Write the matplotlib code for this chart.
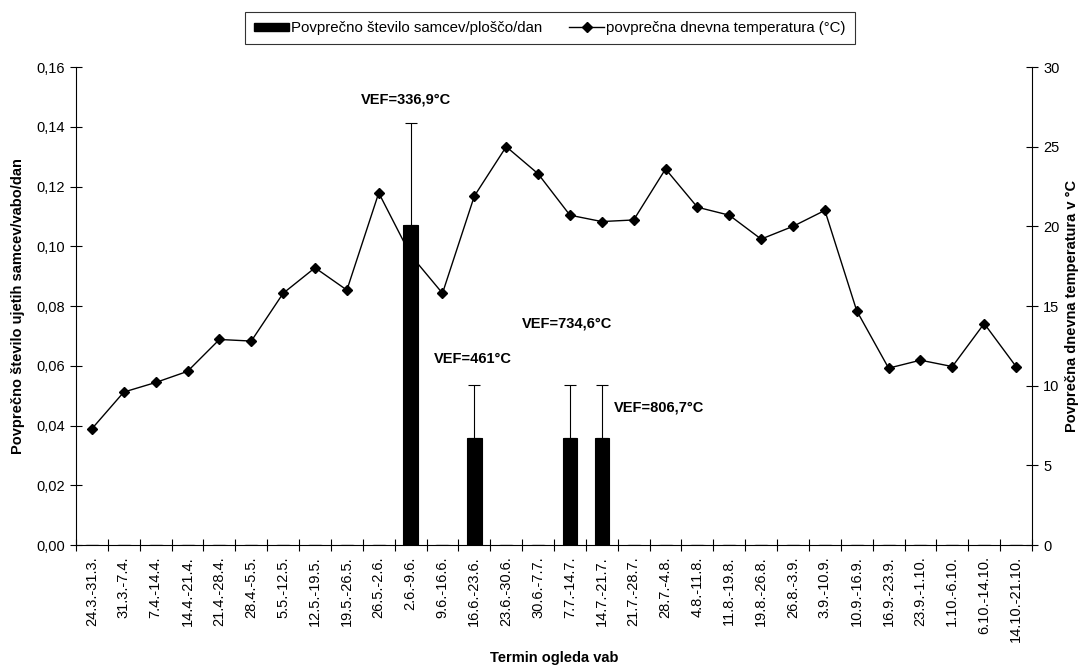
import numpy as np
import matplotlib
matplotlib.use("Agg")
import matplotlib.pyplot as plt
from matplotlib.patches import Patch
from matplotlib.lines import Line2D

plt.rcParams['font.family'] = ['Liberation Sans', 'DejaVu Sans']

termini = ['24.3.-31.3.', '31.3.-7.4.', '7.4.-14.4.', '14.4.-21.4.', '21.4.-28.4.',
           '28.4.-5.5.', '5.5.-12.5.', '12.5.-19.5.', '19.5.-26.5.', '26.5.-2.6.',
           '2.6.-9.6.', '9.6.-16.6.', '16.6.-23.6.', '23.6.-30.6.', '30.6.-7.7.',
           '7.7.-14.7.', '14.7.-21.7.', '21.7.-28.7.', '28.7.-4.8.', '4.8.-11.8.',
           '11.8.-19.8.', '19.8.-26.8.', '26.8.-3.9.', '3.9.-10.9.', '10.9.-16.9.',
           '16.9.-23.9.', '23.9.-1.10.', '1.10.-6.10.', '6.10.-14.10.', '14.10.-21.10.']

# povprecno stevilo samcev / plosco / dan
samci = [0, 0, 0, 0, 0, 0, 0, 0, 0, 0,
         0.107, 0, 0.0357, 0, 0, 0.0357, 0.0357, 0, 0, 0,
         0, 0, 0, 0, 0, 0, 0, 0, 0, 0]
samci_err = [0, 0, 0, 0, 0, 0, 0, 0, 0, 0,
             0.0344, 0, 0.0179, 0, 0, 0.0179, 0.0179, 0, 0, 0,
             0, 0, 0, 0, 0, 0, 0, 0, 0, 0]

# povprecna dnevna temperatura (°C)
temperatura = [7.3, 9.6, 10.2, 10.9, 12.9, 12.8, 15.8, 17.4, 16.0, 22.1,
               18.2, 15.8, 21.9, 25.0, 23.3, 20.7, 20.3, 20.4, 23.6, 21.2,
               20.7, 19.2, 20.0, 21.0, 14.7, 11.1, 11.6, 11.2, 13.9, 11.2]

# VEF napisi
vef_labels = ['VEF=336,9°C', 'VEF=461°C', 'VEF=734,6°C', 'VEF=806,7°C']
vef_x = [9.86, 11.97, 14.9, 17.79]
vef_y = [0.149, 0.0623, 0.074, 0.0461]

x = np.arange(len(termini))

fig = plt.figure(figsize=(10.83, 6.68), dpi=100)
ax = fig.add_axes([0.0702, 0.1841, 0.8827, 0.7156])
ax2 = ax.twinx()

# line on secondary axis, bars drawn on top of it
ax2.plot(x, temperatura, color='black', lw=1.0, marker='D', ms=5.5,
         markerfacecolor='black', markeredgecolor='black', zorder=2)

ax.set_zorder(ax2.get_zorder() + 1)
ax.patch.set_visible(False)

err = np.array(samci_err)
ax.bar(x, samci, width=0.45, color='black', edgecolor='black', linewidth=0.8,
       yerr=[np.zeros_like(err), err], capsize=4.2,
       error_kw=dict(ecolor='black', elinewidth=0.8, capthick=0.8))

for t, tx, ty in zip(vef_labels, vef_x, vef_y):
    ax.text(tx, ty, t, ha='center', va='center', fontsize=10.5, fontweight='bold')

ax.set_xlim(-0.5, len(termini) - 0.5)
ax.set_ylim(0, 0.16)
ax2.set_ylim(0, 30)

yt = np.arange(0, 0.161, 0.02)
ax.set_yticks(yt)
ax.set_yticklabels([('%.2f' % v).replace('.', ',') for v in yt])
ax2.set_yticks(np.arange(0, 31, 5))

ax.set_xticks(x)
ax.set_xticklabels(termini, rotation=90)
ax.set_xticks(np.arange(-0.5, len(termini)), minor=True)
ax.tick_params(axis='x', which='major', length=0, pad=8, labelsize=10.5)
ax.tick_params(axis='x', which='minor', length=8, direction='inout', width=0.8)
ax.tick_params(axis='y', length=8, direction='inout', width=0.8, labelsize=10.5, pad=4)
ax2.tick_params(axis='y', length=8, direction='inout', width=0.8, labelsize=10.5, pad=4)

for a in (ax, ax2):
    a.spines['top'].set_visible(False)
    for s in ('left', 'right', 'bottom'):
        a.spines[s].set_linewidth(0.8)
ax.spines['right'].set_visible(False)
ax2.spines['left'].set_visible(False)
ax2.spines['bottom'].set_visible(False)

ax.set_ylabel('Povprečno število ujetih samcev/vabo/dan', fontsize=10.5,
              fontweight='bold', labelpad=8)
ax2.set_ylabel('Povprečna dnevna temperatura v °C', fontsize=10.5,
               fontweight='bold', labelpad=4)
ax.set_xlabel('Termin ogleda vab', fontsize=10.5, fontweight='bold', labelpad=6)

handles = [Patch(facecolor='black', edgecolor='black'),
           Line2D([0], [0], color='black', lw=1.0, marker='D', ms=5.5)]
leg = fig.legend(handles, ['Povprečno število samcev/ploščo/dan',
                           'povprečna dnevna temperatura (°C)'],
                 loc='center', bbox_to_anchor=(550 / 1083, 1 - 28 / 668), ncol=2,
                 fontsize=10.8, frameon=True, fancybox=False, edgecolor='black',
                 handlelength=2.3, handleheight=0.45, handletextpad=0.15,
                 columnspacing=1.8, borderpad=0.6)
leg.get_frame().set_linewidth(0.8)

fig.savefig('out.png', dpi=100)
